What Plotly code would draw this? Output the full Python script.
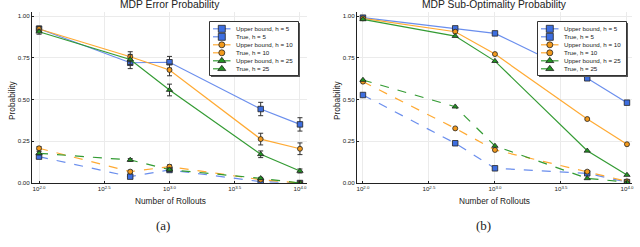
import plotly.graph_objects as go

rollouts = [100, 500, 1000, 5000, 10000]
tick_exps = [2.0, 2.5, 3.0, 3.5, 4.0]
ytick_vals = [0.0, 0.25, 0.5, 0.75, 1.0]
ytick_text = ["0.00", "0.25", "0.50", "0.75", "1.00"]

# (a) MDP Error Probability
err_ub_h5 = [0.924, 0.720, 0.723, 0.443, 0.351]
err_ub_h10 = [0.922, 0.756, 0.677, 0.263, 0.205]
err_ub_h25 = [0.906, 0.740, 0.557, 0.172, 0.072]
err_true_h5 = [0.158, 0.038, 0.078, 0.008, 0.0]
err_true_h10 = [0.208, 0.068, 0.098, 0.020, 0.0]
err_true_h25 = [0.178, 0.138, 0.080, 0.028, 0.0]
err_ub_h5_e = [0.015, 0.035, 0.035, 0.040, 0.040]
err_ub_h10_e = [0.015, 0.030, 0.035, 0.035, 0.035]
err_ub_h25_e = [0.015, 0.030, 0.035, 0.020, 0.012]
err_true_e = [0.010, 0.008, 0.010, 0.006, 0.0]

# (b) MDP Sub-Optimality Probability
sub_ub_h5 = [0.990, 0.926, 0.896, 0.627, 0.481]
sub_ub_h10 = [0.986, 0.906, 0.772, 0.383, 0.232]
sub_ub_h25 = [0.980, 0.880, 0.730, 0.193, 0.048]
sub_true_h5 = [0.527, 0.238, 0.088, 0.058, 0.005]
sub_true_h10 = [0.607, 0.327, 0.198, 0.068, 0.010]
sub_true_h25 = [0.617, 0.457, 0.222, 0.028, 0.005]

names = ["Upper bound, h = 5", "True, h = 5", "Upper bound, h = 10",
         "True, h = 10", "Upper bound, h = 25", "True, h = 25"]

FONT = "Liberation Sans"
TXT = "#222222"
BLUE_L, BLUE_M = "rgba(90,130,235,0.9)", "#3d6ee0"
ORNG_L, ORNG_M = "rgba(255,165,40,0.95)", "#f39a1c"
GRN_L, GRN_M = "rgba(40,150,40,0.95)", "#239323"
styles = [
    (BLUE_L, BLUE_M, "square", "solid"),
    (BLUE_L, BLUE_M, "square", "dash"),
    (ORNG_L, ORNG_M, "circle", "solid"),
    (ORNG_L, ORNG_M, "circle", "dash"),
    (GRN_L, GRN_M, "triangle-up", "solid"),
    (GRN_L, GRN_M, "triangle-up", "dash"),
]

fig = go.Figure()


def add(ys, errs, idx, xa, ya):
    lc, mc, sym, dash = styles[idx]
    kw = {}
    if errs is not None:
        kw["error_y"] = dict(type="data", array=errs, visible=True,
                             color="#333333", thickness=1, width=2.5)
    fig.add_trace(go.Scatter(
        x=rollouts, y=ys, mode="lines+markers", name=names[idx], showlegend=False,
        line=dict(color=lc, width=1.2, dash=dash),
        marker=dict(symbol=sym, size=5.5 if sym != "circle" else 5, color=mc,
                    line=dict(color="#222222", width=0.8)),
        xaxis=xa, yaxis=ya, **kw))


a_series = [(err_ub_h5, err_ub_h5_e), (err_true_h5, err_true_e),
            (err_ub_h10, err_ub_h10_e), (err_true_h10, err_true_e),
            (err_ub_h25, err_ub_h25_e), (err_true_h25, err_true_e)]
for i, (ys, es) in enumerate(a_series):
    add(ys, es, i, "x", "y")
b_series = [sub_ub_h5, sub_true_h5, sub_ub_h10, sub_true_h10, sub_ub_h25, sub_true_h25]
for i, ys in enumerate(b_series):
    add(ys, None, i, "x2", "y2")

# ---- hand-drawn legends (box in its own hidden axes, pixel-like units) ----
BOX_W, BOX_H = 89, 54
annotations = []


def legend_box(xa, ya):
    fig.add_trace(go.Scatter(x=[1.5, BOX_W + 1.5, BOX_W + 1.5, 1.5, 1.5],
                             y=[1.5, 1.5, BOX_H + 1.5, BOX_H + 1.5, 1.5],
                             fill="toself", fillcolor="#555555", mode="lines",
                             line=dict(width=0, color="#555555"), showlegend=False,
                             hoverinfo="skip", xaxis=xa, yaxis=ya))
    fig.add_trace(go.Scatter(x=[0, BOX_W, BOX_W, 0, 0], y=[0, 0, BOX_H, BOX_H, 0],
                             fill="toself", fillcolor="white", mode="lines",
                             line=dict(width=1, color="#333333"), showlegend=False,
                             hoverinfo="skip", xaxis=xa, yaxis=ya))
    for i, nm in enumerate(names):
        lc, mc, sym, dash = styles[i]
        ry = 7.3 + 8 * i
        fig.add_trace(go.Scatter(x=[3.5, 21], y=[ry, ry], mode="lines",
                                 line=dict(color=lc, width=1.2, dash=dash),
                                 showlegend=False, hoverinfo="skip", xaxis=xa, yaxis=ya))
        fig.add_trace(go.Scatter(x=[12.3], y=[ry], mode="markers",
                                 marker=dict(symbol=sym, size=7 if sym != "circle" else 6,
                                             color=mc, line=dict(color="#222222", width=0.8)),
                                 showlegend=False, hoverinfo="skip", xaxis=xa, yaxis=ya))
        annotations.append(dict(text=nm, x=24.5, y=ry, xref=xa, yref=ya,
                                xanchor="left", yanchor="middle", showarrow=False,
                                font=dict(family=FONT, size=6.2, color=TXT)))


legend_box("x3", "y3")
legend_box("x4", "y4")

tickvals = [10 ** e for e in tick_exps]
ticktext = ["10<sup>%.1f</sup>" % e for e in tick_exps]
fnt = dict(family=FONT, size=6.2, color=TXT)


def xax(domain, rng, anchor):
    return dict(type="log", domain=domain, range=rng, anchor=anchor, automargin=False,
                tickvals=tickvals, ticktext=ticktext, tickfont=fnt,
                showgrid=True, gridcolor="#ebebeb", gridwidth=1,
                showline=True, linecolor="#222222", linewidth=1,
                ticks="inside", ticklen=2, tickcolor="#222222", zeroline=False)


def yax(anchor):
    return dict(domain=[1 - 183 / 247, 1 - 12 / 247], range=[0, 1.024], anchor=anchor,
                automargin=False, tickvals=ytick_vals, ticktext=ytick_text, tickfont=fnt,
                showgrid=True, gridcolor="#ebebeb", gridwidth=1,
                showline=True, linecolor="#222222", linewidth=1,
                ticks="inside", ticklen=2, tickcolor="#222222", zeroline=False)


def hidden(domain, rng, anchor):
    return dict(domain=domain, range=rng, anchor=anchor, visible=False,
                automargin=False, fixedrange=True, showgrid=False, zeroline=False)


def px_x(p):
    return p / 640


def px_y(p):
    return 1 - p / 247


annotations += [
    dict(text="MDP Error Probability", x=px_x(170), y=px_y(5), xref="paper", yref="paper",
         xanchor="center", yanchor="middle", showarrow=False,
         font=dict(family=FONT, size=10.3, color=TXT)),
    dict(text="MDP Sub-Optimality Probability", x=px_x(494), y=px_y(5), xref="paper",
         yref="paper", xanchor="center", yanchor="middle", showarrow=False,
         font=dict(family=FONT, size=10.3, color=TXT)),
    dict(text="Number of Rollouts", x=px_x(170), y=px_y(201), xref="paper", yref="paper",
         xanchor="center", yanchor="middle", showarrow=False,
         font=dict(family=FONT, size=8.3, color=TXT)),
    dict(text="Number of Rollouts", x=px_x(494), y=px_y(201), xref="paper", yref="paper",
         xanchor="center", yanchor="middle", showarrow=False,
         font=dict(family=FONT, size=8.3, color=TXT)),
    dict(text="Probability", x=px_x(12), y=px_y(100), xref="paper", yref="paper",
         xanchor="center", yanchor="middle", showarrow=False, textangle=-90,
         font=dict(family=FONT, size=8.3, color=TXT)),
    dict(text="Probability", x=px_x(337), y=px_y(100), xref="paper", yref="paper",
         xanchor="center", yanchor="middle", showarrow=False, textangle=-90,
         font=dict(family=FONT, size=8.3, color=TXT)),
    dict(text="(a)", x=px_x(163), y=px_y(225), xref="paper", yref="paper",
         xanchor="center", yanchor="middle", showarrow=False,
         font=dict(family="Liberation Serif", size=13, color=TXT)),
    dict(text="(b)", x=px_x(483), y=px_y(225), xref="paper", yref="paper",
         xanchor="center", yanchor="middle", showarrow=False,
         font=dict(family="Liberation Serif", size=13, color=TXT)),
]

fig.update_layout(
    width=640, height=247,
    margin=dict(l=0, r=0, t=0, b=0),
    paper_bgcolor="white", plot_bgcolor="white",
    showlegend=False,
    xaxis=xax([px_x(32), px_x(307)], [1.946, 4.054], "y"),
    yaxis=yax("x"),
    xaxis2=xax([px_x(357), px_x(632)], [1.955, 4.038], "y2"),
    yaxis2=yax("x2"),
    xaxis3=hidden([px_x(209), px_x(209 + BOX_W + 2)], [-0.5, BOX_W + 1.5], "y3"),
    yaxis3=hidden([px_y(21 + BOX_H + 2), px_y(21)], [BOX_H + 1.5, -0.5], "x3"),
    xaxis4=hidden([px_x(537), px_x(537 + BOX_W + 2)], [-0.5, BOX_W + 1.5], "y4"),
    yaxis4=hidden([px_y(21 + BOX_H + 2), px_y(21)], [BOX_H + 1.5, -0.5], "x4"),
    annotations=annotations,
)

fig.write_html("out.html", config={"displayModeBar": False},
               post_script="document.body.style.margin='0px';document.body.style.overflow='hidden';")
